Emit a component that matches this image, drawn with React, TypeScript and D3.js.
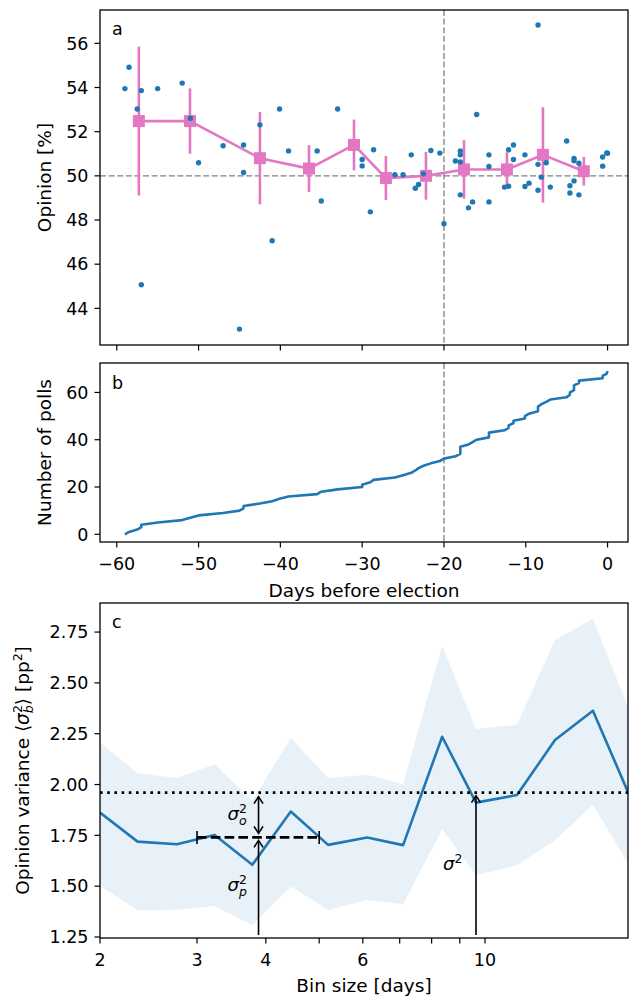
import React from 'react';
import * as d3 from 'd3';

// ---------- Panel a: individual polls ----------
const pollDays = [
  -59.0, -58.5, -57.5, -57.0, -57.0, -55.0, -52.0, -51.0, -50.0, -47.0,
  -45.0, -44.5, -44.5, -42.5, -41.0, -40.1, -39.0, -35.5, -35.0, -33.0,
  -30.0, -30.0, -29.0, -28.6, -26.0, -25.0, -24.0, -23.5, -23.1, -22.5,
  -21.6, -20.5, -20.0, -18.6, -18.0, -18.0, -18.0, -18.0, -17.0, -16.5,
  -16.0, -14.5, -14.5, -14.5, -12.6, -12.1, -12.1, -11.5, -11.5, -10.1,
  -10.1, -9.6, -8.5, -8.5, -8.5, -8.1, -7.5, -7.0, -5.0, -4.6,
  -4.6, -4.1, -4.1, -4.1, -3.5, -3.5, -0.6, -0.6, -0.1, 0.0,
];
const pollValues = [
  53.95, 54.92, 53.03, 53.86, 45.07, 53.95, 54.2, 52.61, 50.59, 51.36,
  43.06, 51.4, 50.15, 52.31, 47.06, 53.03, 51.13, 51.13, 48.86, 53.03,
  50.74, 50.45, 48.37, 51.18, 50.05, 50.05, 50.95, 49.44, 49.61, 50.09,
  51.15, 51.03, 47.83, 50.67, 51.13, 50.95, 50.63, 49.14, 48.55, 48.82,
  52.78, 50.95, 50.42, 48.82, 49.49, 49.53, 51.18, 51.4, 50.74, 50.95,
  49.52, 49.67, 56.83, 50.52, 49.35, 49.94, 50.59, 49.49, 51.58, 49.55,
  49.22, 50.79, 50.68, 49.77, 50.57, 49.14, 50.85, 50.44, 51.04, 51.02,
];

// binned means
const binDays = [-57.3, -51.05, -42.5, -36.5, -31.0, -27.1, -22.2, -17.55, -12.3, -7.9, -2.9];
const binMeans = [52.48, 52.48, 50.8, 50.33, 51.4, 49.9, 50.0, 50.29, 50.29, 50.95, 50.21];
const binErrors = [3.37, 1.48, 2.09, 1.06, 1.15, 1.0, 1.08, 1.33, 0.78, 2.16, 0.65];

const electionRef = -20;
const opinionRef = 50;

const yTicksA = [44, 46, 48, 50, 52, 54, 56];
const yTicksB = [0, 20, 40, 60];
const xTicksDays = [-60, -50, -40, -30, -20, -10, 0];

// ---------- Panel c: variance vs bin size ----------
const binSizes = [2.0, 2.34, 2.76, 3.23, 3.78, 4.44, 5.19, 6.11, 7.1, 8.36, 9.63, 11.43, 13.4, 15.7, 18.2];
const varMean = [1.862, 1.719, 1.706, 1.752, 1.605, 1.867, 1.703, 1.739, 1.702, 2.235, 1.911, 1.948, 2.219, 2.363, 1.96];
const varUpper = [2.207, 2.056, 2.032, 2.1, 1.92, 2.229, 2.032, 2.048, 2.002, 2.683, 2.273, 2.294, 2.711, 2.815, 2.379];
const varLower = [1.501, 1.381, 1.384, 1.402, 1.309, 1.498, 1.383, 1.432, 1.411, 1.78, 1.555, 1.603, 1.726, 1.9, 1.61];

const sigma2 = 1.96; // total variance (dotted)
const sigmaP2 = 1.74; // poll variance level (dashed)
const sigmaPRange = [3, 5];
const sigmaPx = 3.88;
const sigma2x = 9.63;
const arrowBase = 1.26;

const yTicksC = [1.25, 1.5, 1.75, 2.0, 2.25, 2.5, 2.75];
const xTicksBin = [2, 3, 4, 5, 6, 7, 8, 9, 10];
const xTickLabelsBin = ['2', '3', '4', '', '6', '', '', '', '10'];

const BLUE = '#1f77b4';
const PINK = '#e377c2';
const FONT = 'DejaVu Sans';
const FS = 17.5;
const FL = 18.5;

const L = 100, R = 628;
const A_T = 10, A_B = 345;
const B_T = 363, B_B = 542;
const C_T = 603, C_B = 938;
const TICK = 5.5;

const fmtMinus = (d: number) => (d < 0 ? '\u2212' + Math.abs(d) : String(d));

function upArrow(x: number, y: number) {
  return `M${x - 4.5},${y + 7} L${x},${y} L${x + 4.5},${y + 7}`;
}
function downArrow(x: number, y: number) {
  return `M${x - 4.5},${y - 7} L${x},${y} L${x + 4.5},${y - 7}`;
}

export default function App() {
  const xA = d3.scaleLinear().domain([-62.05, 2.5]).range([L, R]);
  const yA = d3.scaleLinear().domain([42.34, 57.51]).range([A_B, A_T]);
  const yB = d3.scaleLinear().domain([-3.26, 72.45]).range([B_B, B_T]);
  const xC = d3.scaleLog().domain([2, 18.18]).range([L, R]);
  const yC = d3.scaleLinear().domain([1.245, 2.893]).range([C_B, C_T]);

  const binLine = d3.line<number>().x((_, i) => xA(binDays[i])).y((d) => yA(d));

  const sortedDays = [...pollDays].sort((a, b) => a - b);
  const cumLine = d3.line<number>().x((d) => xA(d)).y((_, i) => yB(i));

  const band = d3
    .area<number>()
    .x((d) => xC(d))
    .y0((_, i) => yC(varLower[i]))
    .y1((_, i) => yC(varUpper[i]));
  const meanLine = d3.line<number>().x((d) => xC(d)).y((_, i) => yC(varMean[i]));

  const frame = (t: number, b: number) => (
    <rect x={L} y={t} width={R - L} height={b - t} fill="none" stroke="#000" strokeWidth={1.3} />
  );

  const sx = xC(sigmaPx);
  const s2x = xC(sigma2x);

  return (
    <svg width={629} height={999} style={{ position: 'absolute', left: 0, top: 0 }} fontFamily={FONT}>
      <defs>
        <clipPath id="clipA"><rect x={L} y={A_T} width={R - L} height={A_B - A_T} /></clipPath>
        <clipPath id="clipB"><rect x={L} y={B_T} width={R - L} height={B_B - B_T} /></clipPath>
        <clipPath id="clipC"><rect x={L} y={C_T} width={R - L} height={C_B - C_T} /></clipPath>
      </defs>
      <rect x={0} y={0} width={629} height={999} fill="#fff" />

      {/* ---------------- Panel a ---------------- */}
      <g clipPath="url(#clipA)">
        <line x1={xA(electionRef)} x2={xA(electionRef)} y1={A_T} y2={A_B} stroke="#808080" strokeWidth={1.3} strokeDasharray="6,2.6" />
        <line x1={L} x2={R} y1={yA(opinionRef)} y2={yA(opinionRef)} stroke="#808080" strokeWidth={1.3} strokeDasharray="6,2.6" />
        {binDays.map((d, i) => (
          <line key={'e' + i} x1={xA(d)} x2={xA(d)} y1={yA(binMeans[i] - binErrors[i])} y2={yA(binMeans[i] + binErrors[i])} stroke={PINK} strokeWidth={2.6} />
        ))}
        <path d={binLine(binMeans) || ''} fill="none" stroke={PINK} strokeWidth={2.6} />
        {binDays.map((d, i) => (
          <rect key={'s' + i} x={xA(d) - 6} y={yA(binMeans[i]) - 6} width={12} height={12} fill={PINK} />
        ))}
        {pollDays.map((d, i) => (
          <circle key={'p' + i} cx={xA(d)} cy={yA(pollValues[i])} r={2.7} fill={BLUE} />
        ))}
      </g>
      {frame(A_T, A_B)}
      {yTicksA.map((t) => (
        <g key={'ya' + t}>
          <line x1={L - TICK} x2={L} y1={yA(t)} y2={yA(t)} stroke="#000" strokeWidth={1.2} />
          <text x={L - TICK - 6} y={yA(t) + 6.3} textAnchor="end" fontSize={FS}>{t}</text>
        </g>
      ))}
      {xTicksDays.map((t) => (
        <line key={'xa' + t} x1={xA(t)} x2={xA(t)} y1={A_B} y2={A_B + TICK} stroke="#000" strokeWidth={1.2} />
      ))}
      <text x={112} y={35} fontSize={FS}>a</text>
      <text transform={`translate(51,${(A_T + A_B) / 2}) rotate(-90)`} textAnchor="middle" fontSize={FL}>Opinion [%]</text>

      {/* ---------------- Panel b ---------------- */}
      <g clipPath="url(#clipB)">
        <line x1={xA(electionRef)} x2={xA(electionRef)} y1={B_T} y2={B_B} stroke="#808080" strokeWidth={1.3} strokeDasharray="6,2.6" />
        <path d={cumLine(sortedDays) || ''} fill="none" stroke={BLUE} strokeWidth={2.6} strokeLinejoin="round" />
      </g>
      {frame(B_T, B_B)}
      {yTicksB.map((t) => (
        <g key={'yb' + t}>
          <line x1={L - TICK} x2={L} y1={yB(t)} y2={yB(t)} stroke="#000" strokeWidth={1.2} />
          <text x={L - TICK - 6} y={yB(t) + 6.3} textAnchor="end" fontSize={FS}>{t}</text>
        </g>
      ))}
      {xTicksDays.map((t) => (
        <g key={'xb' + t}>
          <line x1={xA(t)} x2={xA(t)} y1={B_B} y2={B_B + TICK} stroke="#000" strokeWidth={1.2} />
          <text x={xA(t)} y={B_B + 28} textAnchor="middle" fontSize={FS}>{fmtMinus(t)}</text>
        </g>
      ))}
      <text x={112} y={389} fontSize={FS}>b</text>
      <text transform={`translate(51,${(B_T + B_B) / 2}) rotate(-90)`} textAnchor="middle" fontSize={FL}>Number of polls</text>
      <text x={(L + R) / 2} y={597} textAnchor="middle" fontSize={FL}>Days before election</text>

      {/* ---------------- Panel c ---------------- */}
      <g clipPath="url(#clipC)">
        <path d={band(binSizes) || ''} fill={BLUE} fillOpacity={0.1} stroke="none" />
        <path d={meanLine(binSizes) || ''} fill="none" stroke={BLUE} strokeWidth={2.6} strokeLinejoin="round" />
        <line x1={L} x2={R} y1={yC(sigma2)} y2={yC(sigma2)} stroke="#000" strokeWidth={2.6} strokeDasharray="2.6,4.6" />
        {/* sigma_p^2 dashed segment with caps */}
        <line x1={xC(sigmaPRange[0])} x2={xC(sigmaPRange[1])} y1={yC(sigmaP2)} y2={yC(sigmaP2)} stroke="#000" strokeWidth={2.6} strokeDasharray="9.6,4.2" />
        {sigmaPRange.map((v) => (
          <line key={'cap' + v} x1={xC(v)} x2={xC(v)} y1={yC(sigmaP2) - 6.5} y2={yC(sigmaP2) + 6.5} stroke="#000" strokeWidth={1.6} />
        ))}
        {/* sigma_p^2 arrow */}
        <line x1={sx} x2={sx} y1={yC(arrowBase)} y2={yC(sigmaP2) + 4} stroke="#000" strokeWidth={1.6} />
        <path d={upArrow(sx, yC(sigmaP2) + 3)} fill="none" stroke="#000" strokeWidth={1.6} />
        {/* sigma_o^2 double arrow */}
        <line x1={sx} x2={sx} y1={yC(sigma2) + 4} y2={yC(sigmaP2) - 4} stroke="#000" strokeWidth={1.6} />
        <path d={upArrow(sx, yC(sigma2) + 4)} fill="none" stroke="#000" strokeWidth={1.6} />
        <path d={downArrow(sx, yC(sigmaP2) - 4)} fill="none" stroke="#000" strokeWidth={1.6} />
        {/* sigma^2 arrow */}
        <line x1={s2x} x2={s2x} y1={yC(arrowBase)} y2={yC(sigma2) + 4} stroke="#000" strokeWidth={1.6} />
        <path d={upArrow(s2x, yC(sigma2) + 3)} fill="none" stroke="#000" strokeWidth={1.6} />
      </g>
      {frame(C_T, C_B)}
      {yTicksC.map((t) => (
        <g key={'yc' + t}>
          <line x1={L - TICK} x2={L} y1={yC(t)} y2={yC(t)} stroke="#000" strokeWidth={1.2} />
          <text x={L - TICK - 6} y={yC(t) + 6.3} textAnchor="end" fontSize={FS}>{d3.format('.2f')(t)}</text>
        </g>
      ))}
      {xTicksBin.map((t, i) => (
        <g key={'xc' + t}>
          <line x1={xC(t)} x2={xC(t)} y1={C_B} y2={C_B + TICK} stroke="#000" strokeWidth={1.2} />
          <text x={xC(t)} y={C_B + 28} textAnchor="middle" fontSize={FS}>{xTickLabelsBin[i]}</text>
        </g>
      ))}
      <text x={112} y={628} fontSize={FS}>c</text>
      <text x={(L + R) / 2} y={992} textAnchor="middle" fontSize={FL}>Bin size [days]</text>
      <text transform={`translate(29,${(C_T + C_B) / 2}) rotate(-90)`} textAnchor="middle" fontSize={FL}>
        Opinion variance ⟨<tspan fontStyle="italic">σ</tspan>
        <tspan fontSize={12.5} fontStyle="italic" dy={4}>b</tspan>
        <tspan fontSize={12.5} dx={-7.9} dy={-11}>2</tspan>
        <tspan dy={7}>⟩ [pp</tspan>
        <tspan fontSize={12.5} dy={-7}>2</tspan>
        <tspan dy={7}>]</tspan>
      </text>

      {/* annotation labels */}
      <text x={sx - 31} y={yC(1.85) + 5} fontSize={18}>
        <tspan fontStyle="italic">σ</tspan>
        <tspan fontSize={12.5} fontStyle="italic" dy={5}>o</tspan>
        <tspan fontSize={12.5} dx={-7.6} dy={-12}>2</tspan>
      </text>
      <text x={sx - 31} y={yC(1.5) + 5} fontSize={18}>
        <tspan fontStyle="italic">σ</tspan>
        <tspan fontSize={12.5} fontStyle="italic" dy={5}>p</tspan>
        <tspan fontSize={12.5} dx={-7.9} dy={-12}>2</tspan>
      </text>
      <text x={s2x - 33} y={yC(1.6) + 4} fontSize={18}>
        <tspan fontStyle="italic">σ</tspan>
        <tspan fontSize={12.5} dy={-7}>2</tspan>
      </text>
    </svg>
  );
}
